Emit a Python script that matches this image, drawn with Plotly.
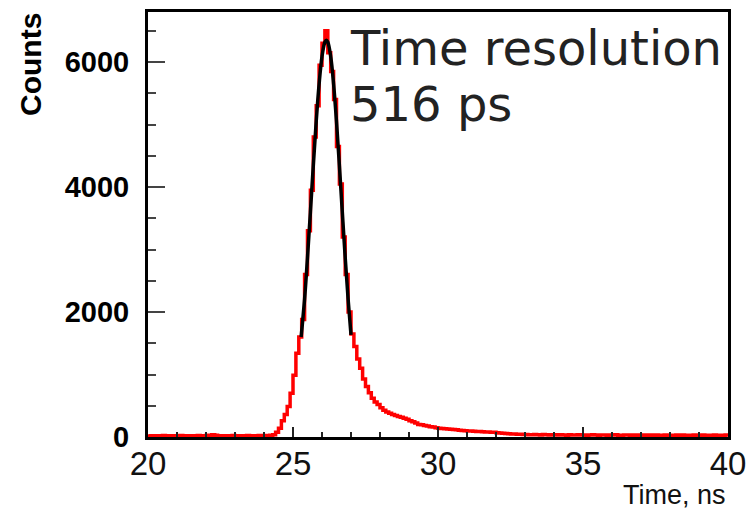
import numpy as np
import plotly.graph_objects as go

# ---- data ----
bin_width = 0.1
bin_low = [round(20.0 + bin_width * i, 1) for i in range(200)]
counts = [
    18, 22, 15, 20, 17, 25, 19, 16, 21, 18,
    20, 23, 17, 19, 22, 16, 20, 24, 18, 21,
    25, 30, 35, 28, 22, 19, 21, 17, 20, 23,
    19, 22, 18, 21, 24, 20, 17, 22, 25, 21,
    23, 26, 28,
    35, 75, 140, 260, 360, 490, 700,
    990, 1340, 1600, 1880, 2600, 3300, 3950, 4800, 5300, 5950,
    6300, 6500, 6150, 5850, 5400, 4650, 4050, 3200, 2600, 2000,
    1650, 1450, 1250, 1100, 930, 810, 710, 620, 560, 520,
    470, 430, 400, 380, 360, 345, 330, 315, 300, 285,
    262, 245, 225, 200, 195, 185, 175, 165, 160, 150,
    142, 138, 132, 128, 125, 120, 115, 110, 105, 100,
    98, 95, 92, 90, 88, 85, 82, 80, 78, 75,
    70, 65, 60, 55, 52, 50, 48, 45, 44, 42,
    40, 38, 35, 42, 37, 34, 39, 36, 33, 38,
    35, 32, 37, 34, 30, 36, 33, 31, 35, 32,
    34, 30, 33, 36, 31, 29, 34, 32, 30, 33,
    31, 35, 30, 28, 33, 31, 29, 34, 30, 32,
    29, 33, 30, 31, 28, 32, 30, 27, 31, 29,
    30, 28, 32, 29, 31, 27, 30, 28, 33, 29,
    28, 31, 29, 27, 30, 32, 28, 26, 30, 34,
]
fit_x = [25.28, 25.4, 25.5, 25.6, 25.7, 25.8, 25.9, 26.0, 26.1, 26.15,
         26.2, 26.3, 26.4, 26.5, 26.6, 26.7, 26.8, 26.9, 27.0]
fit_y = [1600, 2208, 2872, 3598, 4341, 5045, 5646, 6087, 6320, 6350,
         6320, 6087, 5646, 5045, 4341, 3598, 2872, 2208, 1635]

x_ticks = [20, 25, 30, 35, 40]
y_ticks = [0, 2000, 4000, 6000]
label_text = ["Time resolution", "516 ps"]

# ---- figure ----
step_x = bin_low + [round(bin_low[-1] + bin_width, 1)]
step_y = counts + [counts[-1]]

fig = go.Figure()
fig.add_trace(go.Scatter(x=step_x, y=step_y, mode="lines",
                         line=dict(color="#ff0000", width=3.5, shape="hv"),
                         hoverinfo="skip", cliponaxis=True))
fig.add_trace(go.Scatter(x=fit_x, y=fit_y, mode="lines",
                         line=dict(color="black", width=3.5, shape="spline"),
                         hoverinfo="skip"))

W, H = 747, 509
L, R, T, B = 148, 19, 12, 72
fig.update_layout(
    width=W, height=H,
    margin=dict(l=L, r=R, t=T, b=B, pad=0, autoexpand=False),
    paper_bgcolor="white", plot_bgcolor="white",
    showlegend=False,
    xaxis=dict(range=[20, 40], tickvals=x_ticks, ticktext=[str(v) for v in x_ticks],
               automargin=False,
               ticks="inside", ticklen=10, tickwidth=1.5, tickcolor="#222",
               minor=dict(dtick=1, ticks="inside", ticklen=5, tickwidth=1.5, tickcolor="#222"),
               showgrid=False, zeroline=False,
               showline=True, linecolor="black", linewidth=3, mirror=True,
               ticklabelstandoff=-5,
               tickfont=dict(family="Liberation Sans", size=33, color="#111")),
    yaxis=dict(range=[0, 6800], tickvals=y_ticks, ticktext=[str(v) for v in y_ticks],
               automargin=False,
               ticks="inside", ticklen=17, tickwidth=2, tickcolor="#444",
               minor=dict(dtick=500, ticks="inside", ticklen=8, tickwidth=2, tickcolor="#444"),
               showgrid=False, zeroline=False,
               showline=True, linecolor="black", linewidth=3, mirror=True,
               ticklabelstandoff=10,
               tickfont=dict(family="Liberation Sans", size=29, color="black", weight="bold")),
)

pw, ph = W - L - R, H - T - B
def px(xp):
    return (xp - L) / pw
def py(yp):
    return (H - B - yp) / ph

fig.add_annotation(text="Counts", xref="paper", yref="paper", x=px(30), y=py(65),
                   xanchor="center", yanchor="middle", textangle=-90, showarrow=False,
                   font=dict(family="Liberation Sans", size=30, color="black", weight="bold"))
fig.add_annotation(text="Time, ns", xref="paper", yref="paper", x=px(728), y=py(495),
                   xanchor="right", yanchor="middle", showarrow=False,
                   font=dict(family="Liberation Sans", size=27, color="#111"))
fig.add_annotation(text=label_text[0], xref="paper", yref="paper", x=px(348), y=py(48),
                   xanchor="left", yanchor="middle", showarrow=False,
                   font=dict(family="DejaVu Sans", size=48, color="#222"))
fig.add_annotation(text=label_text[1], xref="paper", yref="paper", x=px(348), y=py(104),
                   xanchor="left", yanchor="middle", showarrow=False,
                   font=dict(family="DejaVu Sans", size=48, color="#222"))

fig.write_html("out.html")
